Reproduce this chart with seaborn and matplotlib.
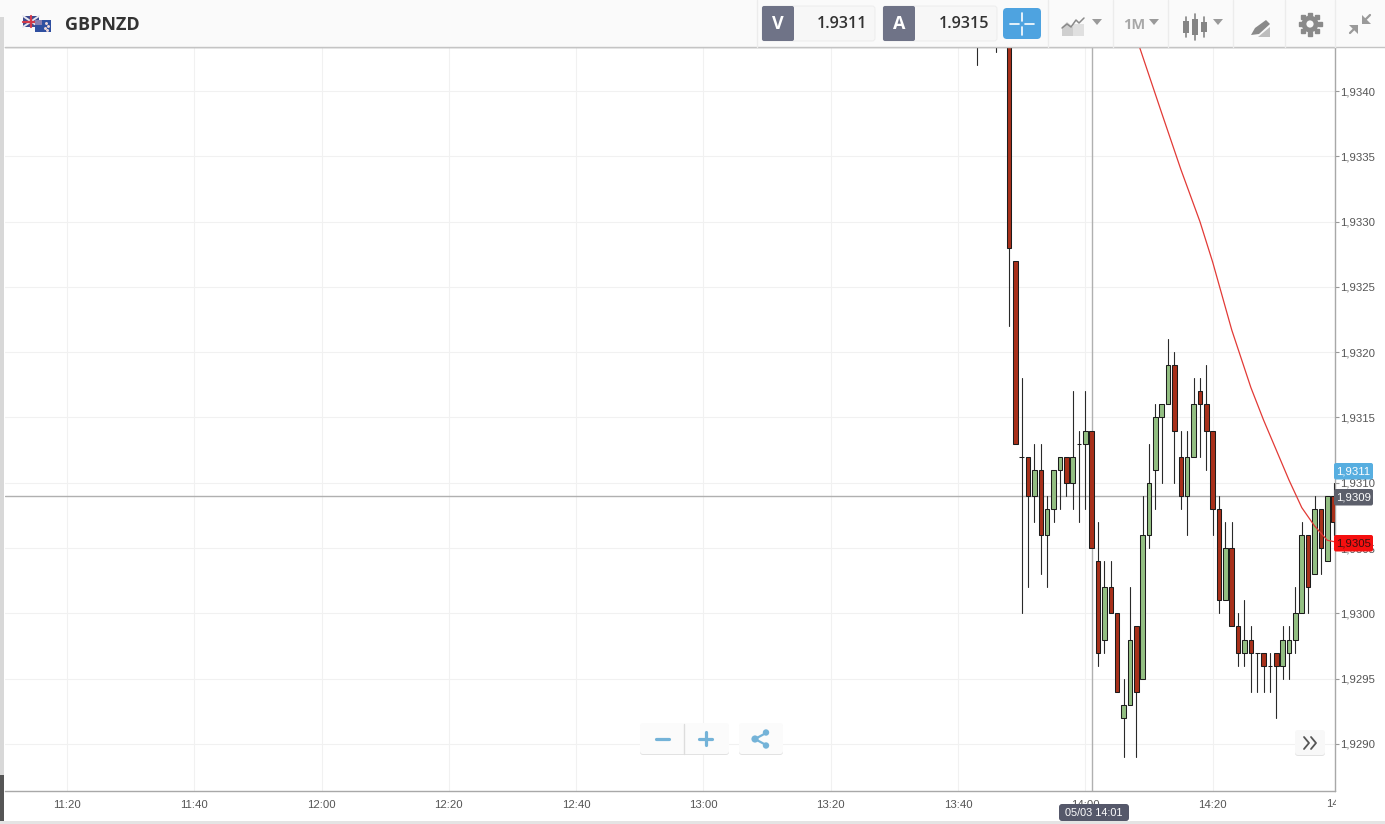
import matplotlib
matplotlib.use("Agg")
import matplotlib.pyplot as plt
from matplotlib.patches import Rectangle, FancyBboxPatch, Circle, Polygon
import numpy as np
import pandas as pd
import seaborn as sns

# candles (first two and the 13:48 open are above the visible range)
times = ["13:43", "13:46", "13:48", "13:49", "13:50", "13:51", "13:52", "13:53", "13:54", "13:55",
         "13:56", "13:57", "13:58", "13:59", "14:00", "14:01", "14:02", "14:03", "14:04", "14:05",
         "14:06", "14:07", "14:08", "14:09", "14:10", "14:11", "14:12", "14:13", "14:14", "14:15",
         "14:16", "14:17", "14:18", "14:19", "14:20", "14:21", "14:22", "14:23", "14:24", "14:25",
         "14:26", "14:27", "14:28", "14:29", "14:30", "14:31", "14:32", "14:33", "14:34", "14:35",
         "14:36", "14:37", "14:38", "14:39"]
opens = [1.9350, 1.9348, 1.9350, 1.9327, 1.9312, 1.9312, 1.9309, 1.9311, 1.9306, 1.9308,
         1.9311, 1.9312, 1.9310, 1.9313, 1.9313, 1.9314, 1.9304, 1.9298, 1.9302, 1.9300,
         1.9292, 1.9293, 1.9299, 1.9295, 1.9306, 1.9311, 1.9315, 1.9316, 1.9319, 1.9312,
         1.9309, 1.9312, 1.9317, 1.9316, 1.9314, 1.9308, 1.9301, 1.9305, 1.9299, 1.9297,
         1.9298, 1.9297, 1.9297, 1.9296, 1.9297, 1.9296, 1.9297, 1.9298, 1.9300, 1.9306,
         1.9303, 1.9308, 1.9304, 1.9309]
highs = [1.9352, 1.9350, 1.9351, 1.9327, 1.9318, 1.9312, 1.9313, 1.9313, 1.9309, 1.9311,
         1.9312, 1.9312, 1.9317, 1.9314, 1.9317, 1.9314, 1.9307, 1.9304, 1.9304, 1.9300,
         1.9295, 1.9302, 1.9299, 1.9309, 1.9313, 1.9316, 1.9316, 1.9321, 1.9320, 1.9314,
         1.9314, 1.9318, 1.9318, 1.9319, 1.9314, 1.9309, 1.9307, 1.9307, 1.9300, 1.9301,
         1.9299, 1.9297, 1.9297, 1.9297, 1.9297, 1.9299, 1.9299, 1.9302, 1.9307, 1.9306,
         1.9309, 1.9308, 1.9309, 1.9310]
lows = [1.9342, 1.9343, 1.9322, 1.9313, 1.9300, 1.9302, 1.9307, 1.9303, 1.9302, 1.9307,
        1.9308, 1.9309, 1.9308, 1.9307, 1.9308, 1.9305, 1.9296, 1.9297, 1.9300, 1.9294,
        1.9289, 1.9293, 1.9289, 1.9295, 1.9305, 1.9308, 1.9310, 1.9316, 1.9310, 1.9308,
        1.9306, 1.9312, 1.9312, 1.9311, 1.9306, 1.9300, 1.9301, 1.9299, 1.9296, 1.9296,
        1.9294, 1.9294, 1.9294, 1.9294, 1.9292, 1.9295, 1.9295, 1.9297, 1.9300, 1.9300,
        1.9303, 1.9303, 1.9304, 1.9306]
closes = [1.9346, 1.9345, 1.9328, 1.9313, 1.9312, 1.9309, 1.9311, 1.9306, 1.9308, 1.9311,
          1.9312, 1.9310, 1.9312, 1.9313, 1.9314, 1.9305, 1.9297, 1.9302, 1.9300, 1.9294,
          1.9293, 1.9298, 1.9294, 1.9306, 1.9310, 1.9315, 1.9316, 1.9319, 1.9314, 1.9309,
          1.9312, 1.9316, 1.9316, 1.9314, 1.9308, 1.9301, 1.9305, 1.9299, 1.9297, 1.9298,
          1.9297, 1.9297, 1.9296, 1.9296, 1.9296, 1.9298, 1.9298, 1.9300, 1.9306, 1.9302,
          1.9308, 1.9305, 1.9309, 1.9307]

# red indicator line
line_times = ["14:08", "14:12", "14:15", "14:18", "14:20", "14:23", "14:26", "14:28", "14:30",
              "14:32", "14:34", "14:36", "14:38", "14:40"]
line_prices = [1.93441, 1.93383, 1.93340, 1.93300, 1.93269, 1.93217, 1.93173, 1.93148, 1.93125,
               1.93102, 1.93081, 1.93067, 1.93056, 1.93054]

time_ticks = ["11:20", "11:40", "12:00", "12:20", "12:40", "13:00", "13:20", "13:40", "14:00", "14:20"]
clipped_tick = "14:40"
price_ticks = [1.9290, 1.9295, 1.9300, 1.9305, 1.9310, 1.9315, 1.9320, 1.9325, 1.9330, 1.9335, 1.9340]
cross_time = "14:01"
cross_price = 1.9309


def to_min(t):
    h, m = t.split(":")
    return int(h) * 60 + int(m)


W, H = 1385, 824
sns.set_style("white")
plt.rcParams["font.family"] = ["Liberation Sans", "DejaVu Sans"]

fig = plt.figure(figsize=(W / 100, H / 100), dpi=100, facecolor="white")
ax = fig.add_axes([5 / W, 1 - 791 / H, 1330 / W, 744 / H])

df = pd.DataFrame({"t": [to_min(t) for t in times], "o": opens, "h": highs, "l": lows, "c": closes})

# wicks as one line per candle
wicks = pd.concat([df.assign(price=df["h"]), df.assign(price=df["l"])])
sns.lineplot(data=wicks, x="t", y="price", units="t", estimator=None, color="#2a2a2a",
             lw=0.8, ax=ax, zorder=3)

# bodies
up = df["c"] >= df["o"]
ax.bar(df["t"][up], (df["c"] - df["o"])[up], bottom=df["o"][up], width=0.72, color="#93bf82",
       edgecolor="#1c1c1c", lw=0.75, zorder=4)
ax.bar(df["t"][~up], (df["o"] - df["c"])[~up], bottom=df["c"][~up], width=0.72, color="#a8301a",
       edgecolor="#1c1c1c", lw=0.75, zorder=4)

sns.lineplot(x=[to_min(t) for t in line_times], y=line_prices, color="#e23a36", lw=0.9, ax=ax, zorder=5)

# crosshair sits behind the candles
ax.axvline(to_min(cross_time), color="#b0b0b0", lw=1, zorder=2.5)
ax.axhline(cross_price, color="#b0b0b0", lw=1, zorder=2.5)

ax.set_xticks([to_min(t) for t in time_ticks])
ax.set_xticklabels(time_ticks)
ax.set_yticks(price_ticks)
ax.set_yticklabels([f"{p:.4f}".replace(".", ",") for p in price_ticks])
ax.set_xlim(670.26, 879.22)
ax.set_ylim(1.92864, 1.934337)
ax.yaxis.tick_right()
ax.set_xlabel("")
ax.set_ylabel("")
ax.grid(True, color="#f1f1f1", lw=0.8)
ax.set_axisbelow(True)
ax.tick_params(axis="y", length=3, width=0.8, color="#999999", labelcolor="#555555", labelsize=8.2, pad=1)
ax.tick_params(axis="x", length=4, width=0.8, color="#999999", labelcolor="#555555", labelsize=8.2, pad=2.5)
for side in ["left"]:
    ax.spines[side].set_visible(False)
for side in ["top", "right", "bottom"]:
    ax.spines[side].set_color("#a8a8a8")
    ax.spines[side].set_linewidth(1)

# app chrome on a pixel-coordinate overlay
ui = fig.add_axes([0, 0, 1, 1], zorder=10)
ui.set_xlim(0, W)
ui.set_ylim(H, 0)
ui.axis("off")
ui.patch.set_alpha(0)


def rect(x, y, w, h, c, z=1, **kw):
    ui.add_patch(Rectangle((x, y), w, h, fc=c, ec="none", zorder=z, **kw))


def rbox(x, y, w, h, c, ec="none", r=3, z=2):
    ui.add_patch(FancyBboxPatch((x + r, y + r), w - 2 * r, h - 2 * r, boxstyle=f"round,pad={r},rounding_size={r}",
                                fc=c, ec=ec, lw=0.8, zorder=z))


# toolbar
rect(0, 0, W, 47, "#fafafa")
ui.plot([5, W], [47, 47], color="#c4c4c4", lw=1, zorder=2)
for x in [757, 1048, 1113, 1168, 1233, 1285, 1335]:
    ui.plot([x, x], [0, 47], color="#ececec", lw=1, zorder=2)

# left strip, bottom strip, the 14:40 label is cut off by the mask right of the axis
rect(0, 17, 4, 758, "#d8d8d8")
rect(0, 775, 4, 49, "#555555")
ui.text(1340, 804, clipped_tick, color="#555555", fontsize=8.2, ha="center", va="center", zorder=0.5)
rect(1335.5, 792, 50, 32, "white", z=1)
rect(0, 821, W, 3, "#e4e4e4", z=3)

# flags
rect(23, 16, 16, 11, "#3b4a8f", z=3)
ui.plot([23, 39], [16, 27], color="#e8e8f0", lw=1.4, zorder=4)
ui.plot([23, 39], [27, 16], color="#e8e8f0", lw=1.4, zorder=4)
ui.plot([31, 31], [16, 27], color="#d23a4a", lw=1.6, zorder=4)
ui.plot([23, 39], [21.5, 21.5], color="#d23a4a", lw=1.6, zorder=4)
rect(35, 20, 16, 12, "#2f4fa0", z=5)
rect(35, 20, 7, 5, "#8a7fb0", z=6)
for px, py in [(46, 23), (48, 26), (45, 28), (47, 30)]:
    ui.plot(px, py, "o", ms=1.1, color="#f0d8d8", zorder=6)

ui.text(65, 25, "GBPNZD", fontsize=13, fontweight="bold", color="#333333", family="Open Sans", va="center", zorder=5)

# sell / buy boxes
rbox(762, 6, 113, 35, "#f7f7f7", ec="#eeeeee")
rbox(883, 6, 114, 35, "#f7f7f7", ec="#eeeeee")
rbox(762, 6, 32, 35, "#6f7387", r=2, z=3)
rbox(883, 6, 32, 35, "#6f7387", r=2, z=3)
ui.text(778, 24, "V", color="white", fontsize=13, fontweight="bold", family="Open Sans", ha="center", va="center", zorder=4)
ui.text(899, 24, "A", color="white", fontsize=13, fontweight="bold", family="Open Sans", ha="center", va="center", zorder=4)
ui.text(867, 24, "1.9311", color="#333333", fontsize=11.6, fontweight="semibold", family="Open Sans", ha="right", va="center", zorder=4)
ui.text(989, 24, "1.9315", color="#333333", fontsize=11.6, fontweight="semibold", family="Open Sans", ha="right", va="center", zorder=4)

# crosshair button
rbox(1003, 8, 38, 31, "#4ea3e0", r=4)
for seg in [([1010, 1019], [24, 24]), ([1025, 1034], [24, 24]), ([1022, 1022], [13, 21]), ([1022, 1022], [27, 35])]:
    ui.plot(*seg, color="white", lw=1.2, zorder=4)

# toolbar icons
gray = "#9a9a9a"
ui.add_patch(Polygon([(1062, 36), (1062, 27), (1067, 22), (1073, 27), (1073, 36)], fc="#cfcfcf", ec="none", zorder=3))
rect(1073, 24, 11, 12, "#e0e0e0", z=3)
ui.plot([1062, 1067, 1071, 1076, 1079, 1084], [28, 24, 27, 20, 23, 18], color="#8a8a8a", lw=1.1, zorder=4)
for tx in [1097, 1154, 1218]:
    ui.add_patch(Polygon([(tx - 5, 19), (tx + 5, 19), (tx, 25)], fc=gray, ec="none", zorder=3))
ui.text(1134, 24.5, "1M", color="#a8a8a8", fontsize=10.5, fontweight="bold", family="Open Sans", ha="center", va="center", zorder=4)
for cx, y0, y1, b0, b1 in [(1186, 17, 37, 21, 33), (1195, 14, 40, 19, 35), (1204, 17, 37, 22, 32)]:
    ui.plot([cx, cx], [y0, y1], color="#858585", lw=1.2, zorder=3)
    rect(cx - 3, b0, 6, b1 - b0, "#858585", z=4)
ui.add_patch(Polygon([(1251, 35), (1255, 28), (1266, 20), (1270, 24), (1259, 34)], fc="#8a8a8a", ec="none", zorder=3))
ui.add_patch(Polygon([(1258, 37), (1270, 27), (1270, 37)], fc="#bdbdbd", ec="none", zorder=3))
# gear
ang = np.linspace(0, 2 * np.pi, 8, endpoint=False)
ui.plot(1310 + 9.5 * np.cos(ang), 24 + 9.5 * np.sin(ang), "s", ms=3.4, color="#8a8a8a", zorder=3, ls="none")
ui.add_patch(Circle((1310, 24), 8.5, fc="#8a8a8a", ec="none", zorder=4))
ui.add_patch(Circle((1310, 24), 3.6, fc="#fafafa", ec="none", zorder=5))
# collapse arrows
ui.plot([1363, 1370], [22, 15], color="#9a9a9a", lw=1.6, zorder=3)
ui.add_patch(Polygon([(1362, 15), (1362, 24), (1371, 24)], fc="#9a9a9a", ec="none", zorder=3))
ui.plot([1350, 1357], [33, 26], color="#9a9a9a", lw=1.6, zorder=3)
ui.add_patch(Polygon([(1349, 25), (1358, 25), (1358, 34)], fc="#9a9a9a", ec="none", zorder=3))

# price tags on the right
for y, txt, col, fg in [(471, "1,9311", "#57aee0", "white"), (497, "1,9309", "#5c5f6b", "white"), (543, "1,9305", "#f50f0f", "#3a1010")]:
    rbox(1334, y - 8, 39, 16.5, col, r=2, z=4)
    ui.text(1353.5, y + 0.3, txt, color=fg, fontsize=8.2, ha="center", va="center", zorder=5)

# crosshair date tag
rbox(1059, 804, 70, 17, "#55586a", r=3, z=4)
ui.text(1094, 812.5, "05/03 14:01", color="white", fontsize=7.8, ha="center", va="center", zorder=5)

# zoom + share buttons
rbox(640, 724, 89, 31, "#e2e2e2", r=3, z=2)
rbox(640, 723, 89, 31, "#fbfbfb", r=3, z=3)
rbox(739, 724, 44, 31, "#e2e2e2", r=3, z=2)
rbox(739, 723, 44, 31, "#fbfbfb", r=3, z=3)
ui.plot([683.5, 683.5], [724, 754], color="#dddddd", lw=1, zorder=4)
blue = "#74b3d8"
ui.plot([656, 669], [738.5, 738.5], color=blue, lw=2.3, zorder=5)
ui.plot([699, 712], [738.5, 738.5], color=blue, lw=2.3, zorder=5)
ui.plot([705.5, 705.5], [732, 745], color=blue, lw=2.3, zorder=5)
ui.plot([755, 766], [739, 733], color=blue, lw=1.6, zorder=5)
ui.plot([755, 766], [739, 745], color=blue, lw=1.6, zorder=5)
for cx, cy, r in [(755, 739, 3.6), (766, 732.5, 3.2), (766, 745.5, 3.2)]:
    ui.add_patch(Circle((cx, cy), r, fc=blue, ec="none", zorder=5))

# scroll button
rbox(1295, 731, 30, 25, "#e2e2e2", r=3, z=2)
rbox(1295, 730, 30, 25, "#f8f8f8", r=3, z=3)
ui.plot([1304, 1309, 1304], [737, 743, 749], color="#555555", lw=1.3, zorder=4)
ui.plot([1311, 1316, 1311], [737, 743, 749], color="#555555", lw=1.3, zorder=4)

fig.savefig("out.png", dpi=100)
